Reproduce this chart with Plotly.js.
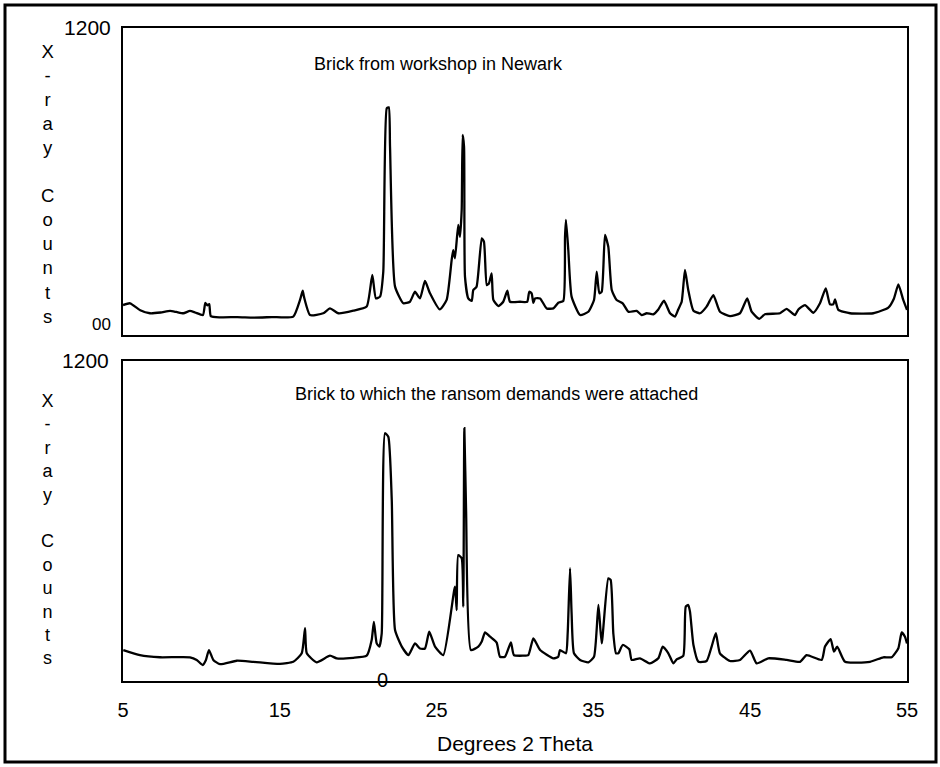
<!DOCTYPE html>
<html>
<head>
<meta charset="utf-8">
<script src="https://cdn.plot.ly/plotly-3.0.1.min.js"></script>
<style>html,body{margin:0;padding:0;background:#fff;}#chart{width:940px;height:767px;}</style>
</head>
<body>
<div id="chart"></div>
<script>
// ---- Data ----
const topTheta = [5.0,5.45,6.1,6.72,7.4,8.0,8.4,8.85,9.27,9.6,10.1,10.25,10.38,10.5,10.6,11.19,12.3,13.3,14.5,15.86,16.29,16.46,16.54,16.93,17.77,18.2,18.73,19.69,20.54,20.9,21.13,21.39,21.6,21.82,21.95,22.03,22.35,22.88,23.3,23.62,23.94,24.26,24.58,25.2,25.64,25.96,26.06,26.17,26.38,26.49,26.6,26.66,26.75,26.81,27.02,27.24,27.34,27.55,27.88,28.02,28.2,28.34,28.51,28.62,28.94,29.25,29.51,29.68,30.32,30.78,30.91,31.06,31.17,31.28,31.6,32.02,32.45,32.76,33.08,33.19,33.25,33.4,33.61,34.15,34.68,35.04,35.21,35.38,35.53,35.74,35.95,36.17,36.48,36.87,37.23,37.76,38.08,38.4,38.82,39.14,39.5,39.89,40.2,40.41,40.63,40.84,41.05,41.38,41.8,42.22,42.65,43.07,43.71,44.35,44.81,45.09,45.58,45.94,46.9,47.32,47.86,48.07,48.49,49.03,49.45,49.82,50.09,50.3,50.41,50.62,51.37,52.85,53.81,54.17,54.45,54.76,55.0];
const topCounts = [117,124,97,85,88,94,90,85,94,88,78,126,116,121,74,69,70,68,70,72,137,173,150,78,85,104,85,95,111,235,143,150,248,886,890,736,189,124,130,169,143,211,163,100,137,293,332,300,430,384,489,782,736,228,143,133,176,189,378,365,195,202,241,137,113,130,173,130,130,130,169,163,126,143,143,104,104,126,133,384,450,332,150,78,91,137,248,163,169,391,345,176,137,124,91,94,78,85,81,100,134,85,72,100,130,254,176,95,85,111,156,91,74,85,143,91,63,81,85,102,78,100,117,87,124,182,120,120,139,98,85,85,107,143,198,137,98];

const botTheta = [5.02,6.08,7.36,9.27,9.7,10.08,10.29,10.48,10.76,11.19,12.25,13.31,15.01,15.86,16.4,16.61,16.72,17.35,18.2,18.63,19.69,20.54,20.86,21.0,21.18,21.35,21.5,21.71,21.92,22.14,22.35,22.78,23.2,23.62,23.94,24.26,24.53,24.9,25.43,26.17,26.28,26.38,26.6,26.7,26.77,26.88,27.19,27.66,27.88,28.09,28.41,28.83,29.04,29.36,29.74,29.93,30.53,30.85,31.17,31.6,32.45,32.76,32.87,33.25,33.36,33.51,33.61,33.76,34.15,34.68,35.04,35.32,35.53,35.95,36.1,36.27,36.44,36.59,36.87,37.29,37.44,37.97,38.61,39.14,39.42,39.78,40.1,40.31,40.73,40.89,41.05,41.16,41.38,41.7,42.22,42.54,42.81,43.07,43.71,44.35,44.99,45.41,46.15,47.32,48.18,48.6,49.56,49.77,50.13,50.34,50.55,51.05,52.64,53.49,54.02,54.45,54.66,54.87,55.0];
const botCounts = [116,97,89,89,79,60,79,116,79,63,76,72,64,72,104,198,104,70,95,85,87,95,154,222,141,129,179,929,916,679,191,129,97,141,122,122,185,129,97,354,266,472,460,279,948,641,116,129,148,182,166,144,91,91,145,97,95,97,160,116,85,91,116,104,179,423,254,104,79,70,91,285,141,385,379,179,104,104,135,119,79,85,66,85,129,104,66,81,94,279,285,260,135,72,75,129,179,104,75,79,114,66,85,79,72,97,79,129,157,110,129,72,72,89,89,123,182,166,141];

const xTickVals = [5,15,25,35,45,55];
const xTickText = ["5","15","25","35","45","55"];
const yTickVals = [1200];
const yTickText = ["1200"];
const topZeroLabel = "00";
const botZeroLabel = "0";

const topTitle = "Brick from workshop in Newark";
const botTitle = "Brick to which the ransom demands were attached";
const xTitle = "Degrees 2 Theta";
const yTitleLetters = ["X","-","r","a","y","\u00a0","C","o","u","n","t","s"];

// ---- Layout helpers (pixel -> paper) ----
const L = 123, R = 33, T = 28, B = 86, W = 940, H = 767;
const pw = W - L - R, ph = H - T - B;
const px = p => (p - L) / pw;
const py = p => (H - B - p) / ph;

const FONT = "Liberation Sans, Arial, sans-serif";

const traces = [
  {x: topTheta, y: topCounts, xaxis: 'x', yaxis: 'y', type: 'scatter', mode: 'lines',
   line: {color: '#000', width: 2.3, shape: 'spline', smoothing: 0.5}, hoverinfo: 'skip'},
  {x: botTheta, y: botCounts, xaxis: 'x2', yaxis: 'y2', type: 'scatter', mode: 'lines',
   line: {color: '#000', width: 2.3, shape: 'spline', smoothing: 0.5}, hoverinfo: 'skip'}
];

const axisCommon = {showline: true, mirror: true, linecolor: '#000', linewidth: 2,
  showgrid: false, zeroline: false, ticks: '', fixedrange: true};

const layout = {
  width: W, height: H,
  margin: {l: L, r: R, t: T, b: B, pad: 0},
  paper_bgcolor: '#fff', plot_bgcolor: '#fff',
  showlegend: false,
  font: {family: FONT, color: '#000', size: 18},
  xaxis: Object.assign({}, axisCommon, {domain: [0, 1], anchor: 'y', range: [5, 55], showticklabels: false}),
  yaxis: Object.assign({}, axisCommon, {domain: [py(335), 1], anchor: 'x', range: [0, 1200],
    tickmode: 'array', tickvals: yTickVals, ticktext: yTickText, tickfont: {size: 21, family: FONT}, ticklabelstandoff: 6}),
  xaxis2: Object.assign({}, axisCommon, {domain: [0, 1], anchor: 'y2', range: [5, 55],
    tickmode: 'array', tickvals: xTickVals, ticktext: xTickText, tickfont: {size: 20, family: FONT},
    ticklabelstandoff: 10,
    title: {text: xTitle, font: {size: 21, family: FONT}, standoff: 16}}),
  yaxis2: Object.assign({}, axisCommon, {domain: [0, py(361)], anchor: 'x2', range: [0, 1200],
    tickmode: 'array', tickvals: yTickVals, ticktext: yTickText, tickfont: {size: 21, family: FONT}, ticklabelstandoff: 8}),
  annotations: [
    {text: topTitle, xref: 'paper', yref: 'paper', x: px(438.5), y: py(64), xanchor: 'center', yanchor: 'middle',
     showarrow: false, font: {size: 18, family: FONT}},
    {text: botTitle, xref: 'paper', yref: 'paper', x: px(496.5), y: py(394), xanchor: 'center', yanchor: 'middle',
     showarrow: false, font: {size: 18, family: FONT}},
    {text: yTitleLetters.join('<br>'), xref: 'paper', yref: 'paper', x: px(47), y: py(184), xanchor: 'center', yanchor: 'middle',
     showarrow: false, font: {size: 18.5, family: FONT}},
    {text: yTitleLetters.join('<br>'), xref: 'paper', yref: 'paper', x: px(47), y: py(529), xanchor: 'center', yanchor: 'middle',
     showarrow: false, font: {size: 18, family: FONT}},
    {text: topZeroLabel, xref: 'paper', yref: 'paper', x: px(113), y: py(324), xanchor: 'right', yanchor: 'middle',
     showarrow: false, font: {size: 17, family: FONT}},
    {text: botZeroLabel, xref: 'x2', yref: 'paper', x: 21.58, y: py(680), xanchor: 'center', yanchor: 'middle',
     showarrow: false, font: {size: 20, family: FONT}}
  ],
  shapes: [
    {type: 'rect', xref: 'paper', yref: 'paper', x0: px(5), x1: px(936), y0: py(762), y1: py(5),
     line: {color: '#000', width: 3}, fillcolor: 'rgba(0,0,0,0)', layer: 'above'}
  ]
};

Plotly.newPlot('chart', traces, layout, {displayModeBar: false, staticPlot: true});
</script>
</body>
</html>
